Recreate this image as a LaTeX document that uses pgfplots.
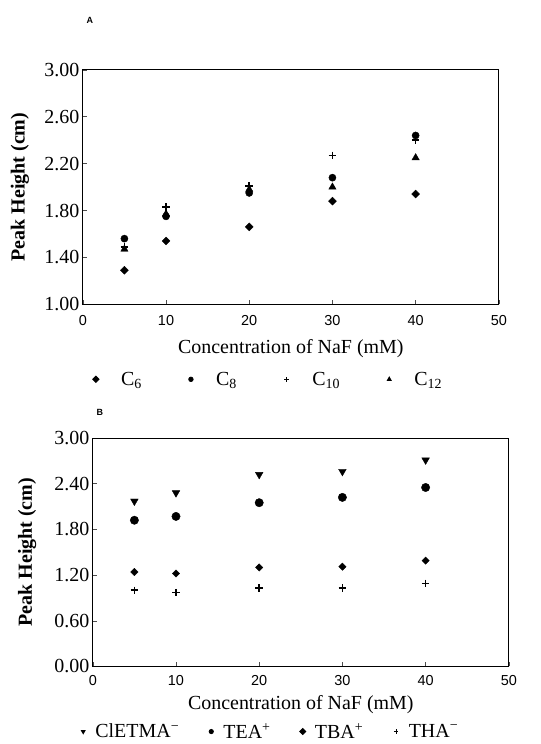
\documentclass[border=0pt]{standalone}
\usepackage{fontspec}
\setmainfont{Liberation Serif}
\setsansfont{Liberation Sans}
\usepackage{pgfplots}
\pgfplotsset{compat=1.18}
\begin{document}
\begin{tikzpicture}
\path (0pt,0pt) rectangle (542pt,744pt);
\pgfplotsset{
  every axis/.append style={
    scale only axis,
    xmin=0, xmax=50,
    xtick={0,10,20,30,40,50},
    /pgf/number format/assume math mode=true,
    tick align=inside, tick pos=left, major tick length=4pt,
    axis line style={line width=0.8pt},
    tick style={line width=0.5pt, black!70},
    y tick label style={font=\fontsize{20}{20}\selectfont, /pgf/number format/fixed, /pgf/number format/precision=2, /pgf/number format/fixed zerofill},
    label style={font=\fontsize{20}{20}\selectfont},
    legend columns=4,
    legend style={draw=none, fill=none, font=\fontsize{20}{20}\selectfont},
  },
}
% Panel A
\node[font=\sffamily\bfseries\fontsize{9}{9}\selectfont] at (90pt,724pt) {A};
\begin{axis}[
  at={(83pt,439pt)}, anchor=south west,
  width=417pt, height=235pt,
  ymin=1, ymax=3, ytick={1.0,1.4,1.8,2.2,2.6,3.0},
  x tick label style={font=\sffamily\fontsize{14.5}{14.5}\selectfont, yshift=-8pt},
  xlabel={Concentration of NaF (mM)},
  ylabel={\textbf{Peak Height (cm)}},
  xlabel style={at={(axis description cs:0.5,-0.19)}, anchor=center},
  ylabel style={at={(axis description cs:-0.151,0.5)}, anchor=center},
  legend style={at={(axis description cs:0.445,-0.32)}, anchor=center},
  legend image code/.code={\path (0pt,-2pt) (27pt,2pt); \draw[mark repeat=2,mark phase=2,#1,mark size=2.2pt,line width=0.9pt] plot coordinates {(0pt,0pt)(4pt,0pt)(27pt,0pt)};},
  /tikz/every even column/.append style={column sep=43pt},
]
\addplot[only marks, mark=square*, mark options={rotate=45}, mark size=2.8pt] coordinates {(5,1.29)(10,1.54)(20,1.66)(30,1.88)(40,1.94)};
\addplot[only marks, mark=*, mark size=3.6pt] coordinates {(5,1.56)(10,1.75)(20,1.95)(30,2.08)(40,2.44)};
\addplot[only marks, mark=+, mark size=3.8pt, line width=1.7pt] coordinates {(5,1.49)(10,1.83)(20,2.01)(30,2.27)(40,2.40)};
\addplot[only marks, mark=triangle*, mark size=4.2pt] coordinates {(5,1.47)(10,1.77)(20,1.98)(30,2.00)(40,2.25)};
\legend{C\textsubscript{6}, C\textsubscript{8}, C\textsubscript{10}, C\textsubscript{12}}
\end{axis}
% Panel B
\node[font=\sffamily\bfseries\fontsize{9}{9}\selectfont] at (100pt,331pt) {B};
\begin{axis}[
  at={(93pt,76pt)}, anchor=south west,
  width=417pt, height=229pt,
  ymin=0, ymax=3, ytick={0,0.6,1.2,1.8,2.4,3.0},
  x tick label style={font=\sffamily\fontsize{14.5}{14.5}\selectfont, yshift=-5pt},
  xlabel={Concentration of NaF (mM)},
  ylabel={\textbf{Peak Height (cm)}},
  xlabel style={at={(axis description cs:0.5,-0.165)}, anchor=center},
  ylabel style={at={(axis description cs:-0.158,0.5)}, anchor=center},
  legend style={at={(axis description cs:0.425,-0.285)}, anchor=center},
  legend image code/.code={\path (0pt,-2pt) (14pt,2pt); \draw[mark repeat=2,mark phase=2,#1,mark size=2.1pt,line width=0.9pt] plot coordinates {(0pt,0pt)(4pt,0pt)(14pt,0pt)};},
  /tikz/every even column/.append style={column sep=26pt},
]
\addplot[only marks, mark=triangle*, mark options={rotate=180}, mark size=4.4pt] coordinates {(5,2.17)(10,2.28)(20,2.52)(30,2.56)(40,2.71)};
\addplot[only marks, mark=*, mark size=4.2pt] coordinates {(5,1.92)(10,1.97)(20,2.15)(30,2.22)(40,2.35)};
\addplot[only marks, mark=square*, mark options={rotate=45}, mark size=2.6pt] coordinates {(5,1.24)(10,1.22)(20,1.30)(30,1.31)(40,1.39)};
\addplot[only marks, mark=+, mark size=3.8pt, line width=1.7pt] coordinates {(5,1.00)(10,0.97)(20,1.03)(30,1.03)(40,1.09)};
\legend{ClETMA\textsuperscript{−}, TEA\textsuperscript{+}, TBA\textsuperscript{+}, THA\textsuperscript{−}}
\end{axis}
\end{tikzpicture}
\end{document}
